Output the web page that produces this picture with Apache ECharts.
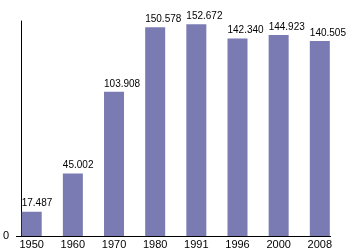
<!DOCTYPE html>
<html>
<head>
<meta charset="utf-8">
<script src="https://cdn.jsdelivr.net/npm/echarts@6/dist/echarts.min.js"></script>
<style>html,body{margin:0;padding:0;background:#fff}#c{width:350px;height:250px}</style>
</head>
<body>
<div id="c"></div>
<script>
var years = ['1950', '1960', '1970', '1980', '1991', '1996', '2000', '2008'];
var population = [17.487, 45.002, 103.908, 150.578, 152.672, 142.340, 144.923, 140.505];
var yTickLabels = ['0'];

var chart = echarts.init(document.getElementById('c'), null, {renderer: 'canvas'});
chart.setOption({
  animation: false,
  backgroundColor: '#ffffff',
  textStyle: {fontFamily: 'Liberation Sans, Arial, sans-serif'},
  grid: {left: 10, right: 9.6, top: 21, bottom: 14, containLabel: false},
  xAxis: {
    type: 'category',
    data: years,
    boundaryGap: true,
    axisLine: {show: false},
    axisTick: {show: false},
    axisLabel: {color: '#000', fontSize: 11, margin: 3, fontFamily: 'Liberation Sans, Arial, sans-serif'}
  },
  yAxis: {
    type: 'value',
    min: 0,
    max: 155,
    interval: 155,
    offset: -10,
    splitLine: {show: false},
    axisTick: {show: false},
    axisLine: {show: true, lineStyle: {color: '#000', width: 1}},
    axisLabel: {
      color: '#000', fontSize: 11, margin: 12,
      fontFamily: 'Liberation Sans, Arial, sans-serif',
      formatter: function (v) { return v === 0 ? yTickLabels[0] : ''; }
    }
  },
  graphic: [{
    type: 'line',
    shape: {x1: 16, y1: 236.5, x2: 331, y2: 236.5},
    style: {stroke: '#000', lineWidth: 1},
    z: 10
  }],
  series: [{
    type: 'bar',
    data: population,
    barWidth: 20,
    itemStyle: {color: '#7b7bb3'},
    label: {
      show: true,
      position: [0, -3],
      align: 'left',
      verticalAlign: 'bottom',
      color: '#000',
      fontSize: 10,
      fontFamily: 'Liberation Sans, Arial, sans-serif',
      formatter: function (p) { return p.value.toFixed(3); }
    }
  }]
});
</script>
</body>
</html>
